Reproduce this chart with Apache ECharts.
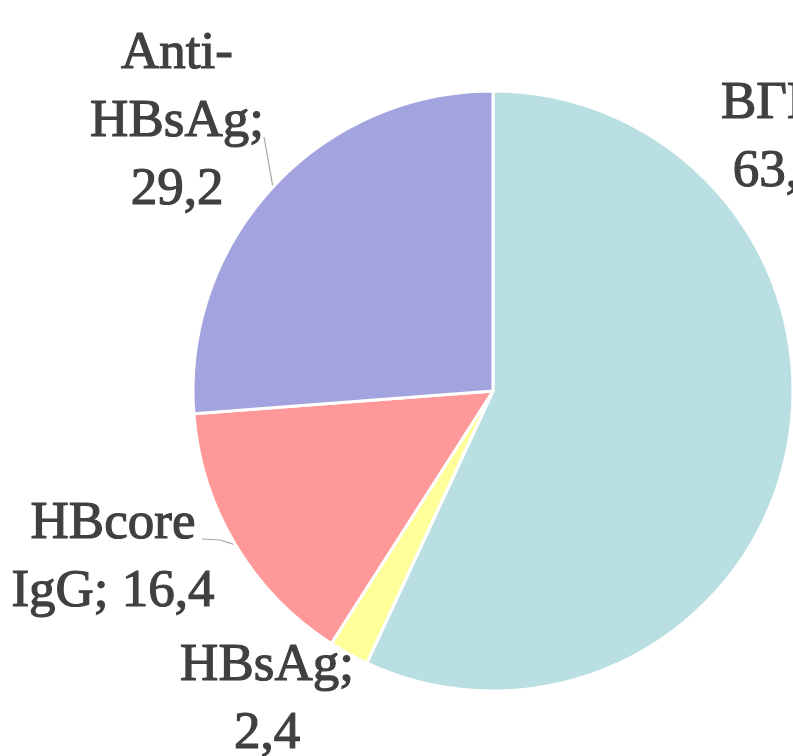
<!DOCTYPE html>
<html>
<head>
<meta charset="utf-8">
<script src="https://cdn.jsdelivr.net/npm/echarts@6/dist/echarts.min.js"></script>
<style>
html,body{margin:0;padding:0;background:#fff;}
#chart{width:793px;height:756px;}
</style>
</head>
<body>
<div id="chart"></div>
<script>
const categories = ['ВГВ', 'HBsAg', 'HBcore IgG', 'Anti-HBsAg'];
const values = [63.4, 2.4, 16.4, 29.2];
const colors = ['#BADFE3', '#FFFF99', '#FF9999', '#A3A3DF'];

function fmtVal(v) { return v.toFixed(1).replace('.', ','); }
function labelText(name, v) {
  const s = fmtVal(v);
  if (name.indexOf(' ') >= 0) return name.replace(' ', '\n') + '; ' + s;
  if (name.indexOf('-') >= 0) return name.replace('-', '-\n') + ';\n' + s;
  return name + ';\n' + s;
}

const CX = 493, CY = 391, R = 300;
// label block centers (layout only)
const labelPos = [
  { x: 779, y: 138, line: null },
  { x: 267, y: 700, line: null },
  { x: 113, y: 558, line: [[220, 540], [202, 539]] },
  { x: 177, y: 122, line: [[264, 137]] }
];

const chart = echarts.init(document.getElementById('chart'), null, { renderer: 'canvas' });
chart.setOption({
  animation: false,
  backgroundColor: '#ffffff',
  series: [{
    type: 'pie',
    center: [CX, CY],
    radius: [0, R],
    startAngle: 90,
    clockwise: true,
    avoidLabelOverlap: false,
    itemStyle: { borderColor: '#ffffff', borderWidth: 3 },
    label: {
      show: true,
      position: 'outside',
      fontFamily: '"Liberation Serif", serif',
      fontSize: 53,
      lineHeight: 68,
      color: '#404040',
      textBorderColor: '#404040',
      textBorderWidth: 1.2,
      align: 'center',
      formatter: p => labelText(p.name, p.value)
    },
    labelLine: {
      show: true,
      lineStyle: { color: '#A6A6A6', width: 1.2 },
      length: 10,
      length2: 10
    },
    labelLayout: function (params) {
      const lp = labelPos[params.dataIndex];
      const res = { x: lp.x, y: lp.y, align: 'center', verticalAlign: 'middle' };
      if (lp.line && params.labelLinePoints) {
        res.labelLinePoints = [params.labelLinePoints[0]].concat(lp.line);
      }
      return res;
    },
    data: categories.map((c, i) => ({
      name: c,
      value: values[i],
      itemStyle: { color: colors[i] },
      labelLine: { show: !!labelPos[i].line }
    }))
  }]
});
</script>
</body>
</html>
